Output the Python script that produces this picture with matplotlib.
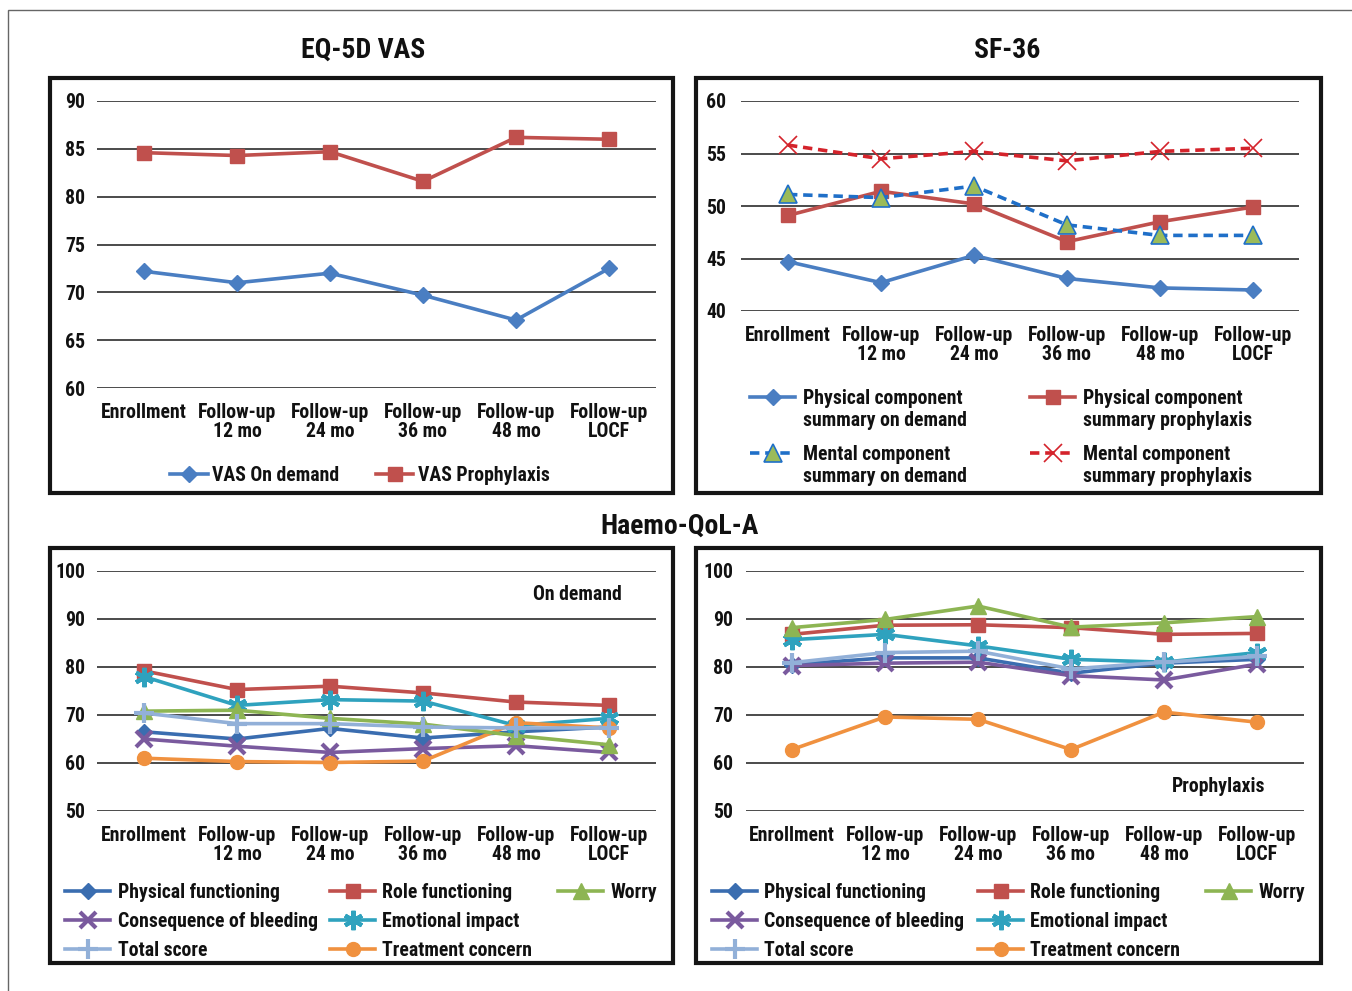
import matplotlib
matplotlib.use("Agg")
import matplotlib.pyplot as plt
from matplotlib import font_manager
from matplotlib.lines import Line2D
from matplotlib.patches import Rectangle

# ---------------- data ----------------
categories = ['Enrollment', 'Follow-up\n12 mo', 'Follow-up\n24 mo',
              'Follow-up\n36 mo', 'Follow-up\n48 mo', 'Follow-up\nLOCF']

vas_on_demand = [72.2, 71.0, 72.0, 69.7, 67.1, 72.5]
vas_prophylaxis = [84.6, 84.3, 84.7, 81.6, 86.2, 86.0]

pcs_on_demand = [44.7, 42.7, 45.3, 43.1, 42.2, 42.0]
pcs_prophylaxis = [49.1, 51.4, 50.2, 46.6, 48.5, 49.9]
mcs_on_demand = [51.1, 50.8, 51.9, 48.2, 47.2, 47.2]
mcs_prophylaxis = [55.8, 54.5, 55.2, 54.3, 55.2, 55.5]

od_physical = [66.5, 65.0, 67.2, 65.2, 66.5, 67.5]
od_role = [79.2, 75.3, 76.0, 74.6, 72.7, 72.0]
od_worry = [70.8, 71.0, 69.3, 68.1, 65.7, 63.8]
od_consequence = [65.0, 63.5, 62.2, 63.0, 63.6, 62.2]
od_emotional = [78.0, 72.0, 73.2, 72.9, 67.8, 69.3]
od_total = [70.4, 68.2, 68.2, 67.5, 67.3, 67.3]
od_treatment = [61.0, 60.3, 60.1, 60.4, 68.4, 67.3]

pr_physical = [80.5, 81.9, 81.9, 78.7, 80.8, 81.6]
pr_role = [86.8, 88.7, 88.8, 88.2, 86.8, 87.0]
pr_worry = [88.2, 89.9, 92.7, 88.3, 89.2, 90.5]
pr_consequence = [80.3, 80.8, 81.0, 78.2, 77.3, 80.6]
pr_emotional = [85.7, 86.8, 84.4, 81.6, 81.0, 83.0]
pr_total = [80.9, 83.0, 83.3, 79.6, 81.0, 82.2]
pr_treatment = [62.8, 69.6, 69.1, 62.8, 70.6, 68.5]

# ---------------- font choice (condensed bold if any) ----------------
ttf = font_manager.fontManager.ttflist
names = {f.name for f in ttf}
FAM, STRETCH, SCALE = None, 'normal', 1.0
for cand in ['Liberation Sans Narrow', 'Roboto Condensed', 'Open Sans Condensed',
             'Noto Sans Condensed', 'DejaVu Sans Condensed']:
    if cand in names:
        FAM = cand
        break
if FAM is None:
    for fam in ['DejaVu Sans', 'Noto Sans', 'Open Sans', 'Roboto']:
        if any(f.name == fam and f.stretch in ('condensed', 'semi-condensed', 'extra-condensed')
               for f in ttf):
            FAM, STRETCH = fam, 'condensed'
            break
if FAM is None:
    others = sorted(n for n in names if ('Condensed' in n or 'Narrow' in n))
    if others:
        FAM = others[0]
if FAM is None:
    FAM, SCALE = ('Roboto' if 'Roboto' in names else 'Liberation Sans'), 0.86

WEIGHT = 800
plt.rcParams['font.family'] = [FAM, 'DejaVu Sans']
plt.rcParams['font.stretch'] = STRETCH
plt.rcParams['font.weight'] = WEIGHT
TXT = '#111111'
FS = 14.2 * SCALE
FT = 20 * SCALE

W, H = 1352, 991
fig = plt.figure(figsize=(W / 100, H / 100), dpi=100)


def rect(x0, x1, ytop, ybot):
    return [x0 / W, 1 - ybot / H, (x1 - x0) / W, (ybot - ytop) / H]


# outer thin border
fig.patches.append(Rectangle((8 / W, -0.05), 1.2, 1 - 9.5 / H + 0.05,
                             transform=fig.transFigure, fill=False,
                             edgecolor='#666666', lw=1.0))

# panel frames
for (x0, x1, y0, y1) in [(50, 673, 78, 493), (696, 1321, 78, 493),
                         (50, 673, 548, 963), (696, 1321, 548, 963)]:
    fig.patches.append(Rectangle((x0 / W, 1 - y1 / H), (x1 - x0) / W, (y1 - y0) / H,
                                 transform=fig.transFigure, fill=False,
                                 edgecolor='#151515', lw=3.0))


def setup(ax, ylo, yhi, step, ypad=9):
    ax.set_xlim(-0.5, 5.5)
    ax.set_ylim(ylo, yhi)
    ax.set_yticks(list(range(ylo, yhi + 1, step)))
    ax.set_xticks(range(len(categories)))
    ax.set_xticklabels(categories, linespacing=1.0)
    for s in ax.spines.values():
        s.set_visible(False)
    ax.tick_params(axis='both', length=0, labelsize=FS, colors=TXT)
    ax.tick_params(axis='y', pad=ypad)
    ax.tick_params(axis='x', pad=10.5)
    for t in ax.get_xticklabels() + ax.get_yticklabels():
        t.set_fontweight(WEIGHT)
        t.set_fontstretch(STRETCH)
    ax.yaxis.grid(True, color='#1a1a1a', lw=1.1)
    ax.set_axisbelow(True)
    ax.patch.set_alpha(0)


def entry(handle, label, x_px, y_px, hl=2.4, pad=0.4):
    y_px = y_px + 1.8
    leg = fig.legend([handle], [label], loc='center left',
                     bbox_to_anchor=(x_px / W, 1 - y_px / H),
                     frameon=False, borderpad=0, borderaxespad=0,
                     handlelength=hl * 13.5 / FS, handletextpad=pad * 13.5 / FS,
                     prop={'family': [FAM, 'DejaVu Sans'], 'weight': WEIGHT,
                           'size': FS, 'stretch': STRETCH})
    for t in leg.get_texts():
        t.set_color(TXT)
    return leg


def ftext(x_px, y_px, s):
    fig.text(x_px / W, 1 - y_px / H, s, ha='center', va='center',
             fontsize=FT, fontweight=WEIGHT, fontstretch=STRETCH, color=TXT)


BLANK = Line2D([], [], color='none')
x = list(range(len(categories)))
LW = 2.6

# ---------------- EQ-5D VAS ----------------
ax1 = fig.add_axes(rect(97.5, 655.5, 101, 388))
setup(ax1, 60, 90, 5)
l_vod, = ax1.plot(x, vas_on_demand, color='#4A7EC2', lw=LW, marker='D', ms=8)
l_vpr, = ax1.plot(x, vas_prophylaxis, color='#C0504D', lw=LW, marker='s', ms=9.5)
entry(l_vod, 'VAS On demand', 170, 474, hl=2.0, pad=0.25)
entry(l_vpr, 'VAS Prophylaxis', 376, 474, hl=2.0, pad=0.25)
ftext(363, 50, 'EQ-5D VAS')

# ---------------- SF-36 ----------------
ax2 = fig.add_axes(rect(741.5, 1299.5, 101, 311))
setup(ax2, 40, 60, 5, ypad=11)
l_pod, = ax2.plot(x, pcs_on_demand, color='#4A7EC2', lw=LW, marker='D', ms=8)
l_ppr, = ax2.plot(x, pcs_prophylaxis, color='#C0504D', lw=LW, marker='s', ms=9.5)
l_mod, = ax2.plot(x, mcs_on_demand, color='#1F6FC8', lw=LW, ls=(0, (2.6, 1.6)),
                  marker='^', ms=13, mfc='#9BBB59', mec='#1F6FC8', mew=1.2)
l_mpr, = ax2.plot(x, mcs_prophylaxis, color='#D4232B', lw=LW, ls=(0, (2.6, 1.6)),
                  marker='x', ms=13, mec='#D4232B', mew=1.2)
entry(l_pod, 'Physical component', 750, 397, pad=0.45)
entry(BLANK, 'summary on demand', 750, 419, pad=0.45)
entry(l_mod, 'Mental component', 750, 453, pad=0.45)
entry(BLANK, 'summary on demand', 750, 475, pad=0.45)
entry(l_ppr, 'Physical component', 1030, 397, pad=0.45)
entry(BLANK, 'summary prophylaxis', 1030, 419, pad=0.45)
entry(l_mpr, 'Mental component', 1030, 453, pad=0.45)
entry(BLANK, 'summary prophylaxis', 1030, 475, pad=0.45)
ftext(1007, 50, 'SF-36')

# ---------------- Haemo-QoL-A ----------------
ftext(680, 526, 'Haemo-QoL-A')

C_PF, C_RF, C_WO = '#3A6DB0', '#C0504D', '#8DB553'
C_CB, C_EI, C_TS, C_TC = '#7A5A9E', '#2FA2BE', '#92B0D8', '#F0913F'


def haemo(ax, pf, rf, wo, cb, ei, ts, tc):
    ls = {}
    ls['pf'], = ax.plot(x, pf, color=C_PF, lw=LW, marker='D', ms=8, zorder=3)
    ls['cb'], = ax.plot(x, cb, color=C_CB, lw=LW, marker='x', ms=12, mew=3, zorder=3)
    ls['ts'], = ax.plot(x, ts, color=C_TS, lw=LW, marker='+', ms=15, mew=3, zorder=4)
    ls['rf'], = ax.plot(x, rf, color=C_RF, lw=LW, marker='s', ms=9.5, zorder=3)
    ls['ei'], = ax.plot(x, ei, color=C_EI, lw=LW, marker=(6, 2, 0), ms=14, mew=3, zorder=3)
    ls['tc'], = ax.plot(x, tc, color=C_TC, lw=LW, marker='o', ms=10, zorder=3)
    ls['wo'], = ax.plot(x, wo, color=C_WO, lw=LW, marker='^', ms=11.5, zorder=3)
    return ls


ax3 = fig.add_axes(rect(97.5, 655.5, 571, 811))
setup(ax3, 50, 100, 10)
h3 = haemo(ax3, od_physical, od_role, od_worry, od_consequence,
           od_emotional, od_total, od_treatment)
ax3.text(4.66, 95.2, 'On demand', ha='center', va='center', fontsize=FS,
         fontweight=WEIGHT, fontstretch=STRETCH, color=TXT)

ax4 = fig.add_axes(rect(745.5, 1303.5, 571, 811))
setup(ax4, 50, 100, 10)
h4 = haemo(ax4, pr_physical, pr_role, pr_worry, pr_consequence,
           pr_emotional, pr_total, pr_treatment)
ax4.text(4.59, 55.0, 'Prophylaxis', ha='center', va='center', fontsize=FS,
         fontweight=WEIGHT, fontstretch=STRETCH, color=TXT)

labels = {'pf': 'Physical functioning', 'rf': 'Role functioning', 'wo': 'Worry',
          'cb': 'Consequence of bleeding', 'ei': 'Emotional impact',
          'ts': 'Total score', 'tc': 'Treatment concern'}
layout = [('pf', 0, 0), ('cb', 0, 1), ('ts', 0, 2),
          ('rf', 1, 0), ('ei', 1, 1), ('tc', 1, 2), ('wo', 2, 0)]
rows = [891, 920, 949]
for hs, cols in [(h3, [65, 330, 558]), (h4, [712, 978, 1206])]:
    for key, c, r in layout:
        entry(hs[key], labels[key], cols[c], rows[r], hl=2.4, pad=0.4)

fig.savefig('out.png', dpi=100)
